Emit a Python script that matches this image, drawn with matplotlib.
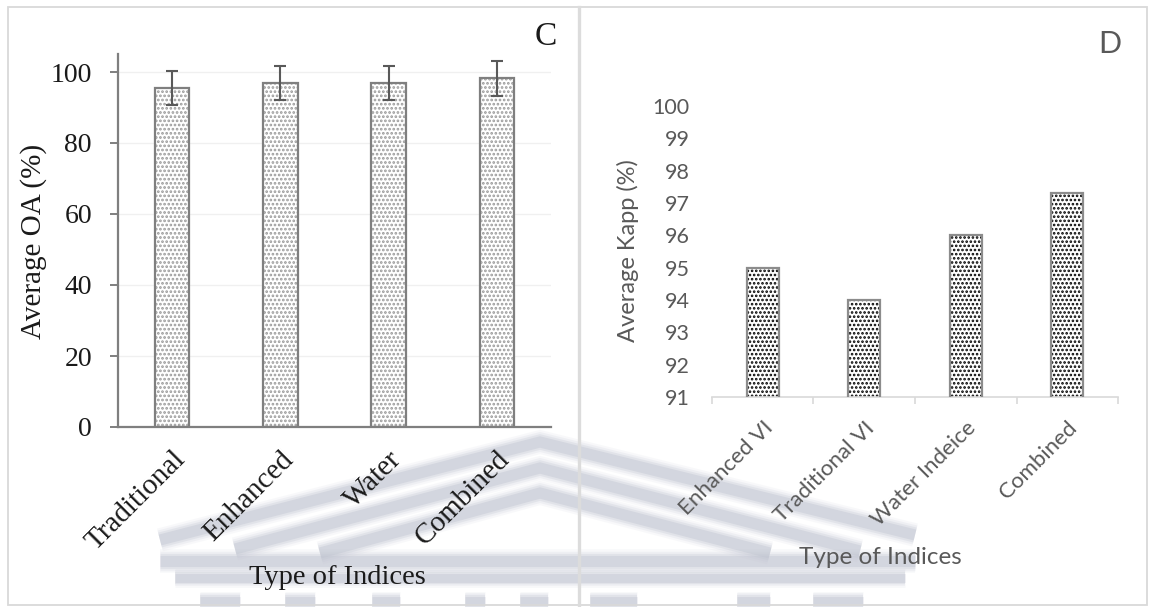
import matplotlib
matplotlib.use("Agg")
import matplotlib.pyplot as plt
from matplotlib.lines import Line2D
from matplotlib.patches import Rectangle
import numpy as np

# ---- data -------------------------------------------------------------
oa_categories = ["Traditional", "Enhanced", "Water", "Combined"]
oa_values = [95.6, 97.0, 97.0, 98.2]
oa_errors = [4.8, 4.8, 4.8, 5.0]
oa_ticks = [0, 20, 40, 60, 80, 100]

kapp_categories = ["Enhanced VI", "Traditional VI", "Water Indeice", "Combined"]
kapp_values = [95.0, 94.0, 96.0, 97.3]
kapp_ticks = [91, 92, 93, 94, 95, 96, 97, 98, 99, 100]

W, H = 1149, 607
fig = plt.figure(figsize=(W / 100, H / 100), dpi=100)
fig.patch.set_facecolor("white")


def fx(x):
    return x / W


def fy(y):
    return 1 - y / H


def axes_rect(x0, y0, x1, y1):
    return [fx(x0), fy(y1), fx(x1) - fx(x0), fy(y0) - fy(y1)]


SERIF = "Liberation Serif"
SANS = "Lato"
GREY_TXT = "#595959"
DARK_TXT = "#1a1a1a"

# ---- faded building emblem behind the charts ---------------------------
wm_color = "#bfc3d0"
soft_layers = [(17, 0.10), (14, 0.16), (11, 0.26), (8, 0.40)]


def soft_line(xs, ys, scale=1.0):
    for lw, a in soft_layers:
        fig.add_artist(Line2D([fx(v) for v in xs], [fy(v) for v in ys],
                              transform=fig.transFigure, color=wm_color,
                              lw=lw * scale, alpha=a, solid_capstyle="butt",
                              solid_joinstyle="miter", zorder=-5))


chevrons = [
    [(160, 540), (540, 442), (915, 535)],
    [(235, 549), (540, 468), (860, 551)],
    [(320, 553), (540, 493), (770, 553)],
]
for pts in chevrons:
    soft_line([p[0] for p in pts], [p[1] for p in pts])
soft_line([160, 915], [561, 561])
soft_line([175, 905], [578, 578], scale=0.8)
for (xa, xb) in [(200, 240), (285, 315), (372, 400), (465, 485), (520, 548),
                 (590, 637), (737, 770), (813, 863)]:
    soft_line([xa, xb], [601, 601], scale=0.8)

# ---- panel frames ------------------------------------------------------
fig.add_artist(Rectangle((fx(8), fy(605)), fx(1147) - fx(8), fy(7) - fy(605),
                         transform=fig.transFigure, fill=False,
                         edgecolor="#d9d9d9", lw=1.3, zorder=-4))
fig.add_artist(Line2D([fx(578.5), fx(578.5)], [fy(7), fy(605)],
                      transform=fig.transFigure, color="#dcdcdc", lw=2.4, zorder=-4))

# ---- panel C: average overall accuracy ----------------------------------
axc = fig.add_axes(axes_rect(118, 54.25, 551, 427))
axc.set_facecolor("none")
xc = np.arange(len(oa_categories))
bw = 0.32

plt.rcParams["hatch.linewidth"] = 1.3
axc.bar(xc, oa_values, width=bw, color="white", edgecolor="#9a9a9a",
        hatch="....", lw=0, zorder=2)
axc.bar(xc, oa_values, width=bw, color="none", edgecolor="#7f7f7f",
        lw=1.6, zorder=3)
axc.errorbar(xc, oa_values, yerr=oa_errors, fmt="none", ecolor=GREY_TXT,
             elinewidth=1.5, capsize=4.5, capthick=1.5, zorder=4)

axc.set_xlim(-0.5, len(oa_categories) - 0.5)
axc.set_ylim(0, 105)
axc.set_yticks(oa_ticks)
axc.set_yticklabels([str(t) for t in oa_ticks], family=SERIF, fontsize=20,
                    color=DARK_TXT)
axc.set_xticks(xc)
axc.set_xticklabels(oa_categories, rotation=45, ha="right",
                    rotation_mode="anchor", family=SERIF, fontsize=21,
                    color=DARK_TXT)
axc.tick_params(axis="x", length=0, pad=14)
axc.tick_params(axis="y", direction="out", length=5.8, width=1.4,
                color="#7f7f7f", pad=13)
axc.yaxis.grid(True, color="#f0f0f0", lw=1)
axc.set_axisbelow(True)
for side in ["top", "right"]:
    axc.spines[side].set_visible(False)
for side in ["left", "bottom"]:
    axc.spines[side].set_color("#7f7f7f")
    axc.spines[side].set_linewidth(1.6)

fig.text(fx(34), fy(241), "Average OA (%)", rotation=90, ha="center",
         va="center", family=SERIF, fontsize=21, color=DARK_TXT)
fig.text(fx(337), fy(577), "Type of Indices", ha="center", va="center",
         family=SERIF, fontsize=20.5, color=DARK_TXT)
fig.text(fx(546), fy(37), "C", ha="center", va="center", family=SERIF,
         fontsize=24, color=DARK_TXT)

# ---- panel D: average kappa ---------------------------------------------
axd = fig.add_axes(axes_rect(712, 106, 1118, 397))
axd.set_facecolor("none")
xd = np.arange(len(kapp_categories))

plt.rcParams["hatch.linewidth"] = 1.25
axd.bar(xd, kapp_values, width=bw, color="white", edgecolor="black",
        hatch="....", lw=0, zorder=2)
axd.bar(xd, kapp_values, width=bw, color="none", edgecolor="#8c8c8c",
        lw=1.6, zorder=3)

axd.set_xlim(-0.5, len(kapp_categories) - 0.5)
axd.set_ylim(91, 100)
axd.set_yticks(kapp_ticks)
axd.set_yticklabels([str(t) for t in kapp_ticks], family=SANS, fontsize=15.5,
                    color=GREY_TXT)
axd.tick_params(axis="y", length=0, pad=16)
axd.set_xticks(xd)
axd.set_xticklabels(kapp_categories, rotation=45, ha="right",
                    rotation_mode="anchor", family=SANS, fontsize=16,
                    color=GREY_TXT)
axd.tick_params(axis="x", which="major", length=0, pad=15)
axd.set_xticks(np.arange(len(kapp_categories) + 1) - 0.5, minor=True)
axd.tick_params(axis="x", which="minor", direction="out", length=5,
                width=1.2, color="#d9d9d9")
for side in ["top", "right", "left"]:
    axd.spines[side].set_visible(False)
axd.spines["bottom"].set_color("#d9d9d9")
axd.spines["bottom"].set_linewidth(1.2)

fig.text(fx(628), fy(251), "Average Kapp (%)", rotation=90, ha="center",
         va="center", family=SANS, fontsize=17, color=GREY_TXT)
fig.text(fx(880), fy(557), "Type of Indices", ha="center", va="center",
         family=SANS, fontsize=17.5, color=GREY_TXT)
fig.text(fx(1110), fy(44), "D", ha="center", va="center", family=SANS,
         fontsize=22, color=GREY_TXT)

fig.savefig("out.png", dpi=100)
